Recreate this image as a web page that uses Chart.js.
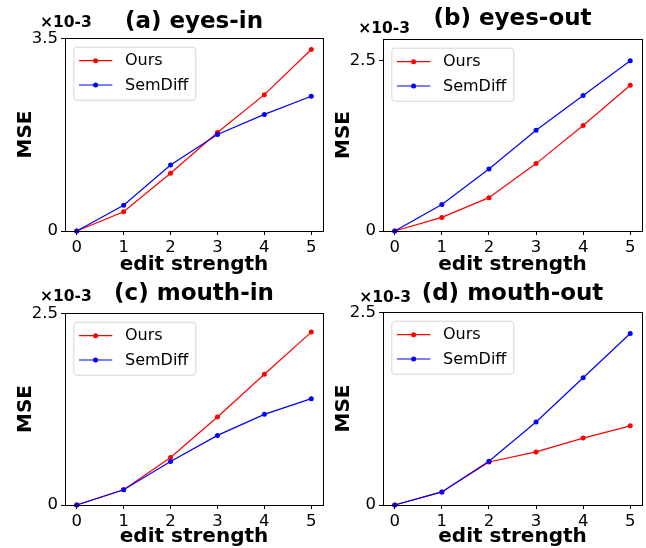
<!DOCTYPE html>
<html><head><meta charset="utf-8">
<script src="https://cdn.jsdelivr.net/npm/chart.js@4.4.0/dist/chart.umd.min.js"></script>
<style>
html,body{margin:0;padding:0;background:#fff;}
#wrap{position:relative;width:646px;height:548px;overflow:hidden;background:#fff;}
canvas{position:absolute;left:0;top:0;}
</style></head><body>
<div id="wrap">
<canvas id="c0" width="646" height="548"></canvas>
<canvas id="c1" width="646" height="548"></canvas>
<canvas id="c2" width="646" height="548"></canvas>
<canvas id="c3" width="646" height="548"></canvas>
</div>
<script>
// ---- data (MSE in units of 1e-3) ----
const strengths = [0, 1, 2, 3, 4, 5];
const eyesInOurs    = [0, 0.35, 1.05, 1.79, 2.48, 3.30];
const eyesInSem     = [0, 0.47, 1.20, 1.755, 2.12, 2.45];
const eyesOutOurs   = [0, 0.20, 0.49, 0.99, 1.55, 2.14];
const eyesOutSem    = [0, 0.39, 0.91, 1.48, 1.99, 2.50];
const mouthInOurs   = [0, 0.20, 0.62, 1.15, 1.71, 2.26];
const mouthInSem    = [0, 0.20, 0.57, 0.91, 1.185, 1.39];
const mouthOutOurs  = [0, 0.17, 0.56, 0.69, 0.87, 1.03];
const mouthOutSem   = [0, 0.17, 0.57, 1.08, 1.655, 2.23];
const panelTitles = ['(a) eyes-in', '(b) eyes-out', '(c) mouth-in', '(d) mouth-out'];
const yTopTicks = [3.5, 2.5, 2.5, 2.5];
const seriesNames = ['Ours', 'SemDiff'];
const offsetLabel = '×10-3';
const xAxisLabel = 'edit strength';
const yAxisLabel = 'MSE';

const panelSeries = [
  [eyesInOurs, eyesInSem],
  [eyesOutOurs, eyesOutSem],
  [mouthInOurs, mouthInSem],
  [mouthOutOurs, mouthOutSem]
];

// ---- layout / style ----
const FONT = "'DejaVu Sans', sans-serif";
const colors = ['#ff0000', '#0000ff'];
const MID = 0.32; // baseline offset of 'middle' in em
const layouts = [
  {L:65,  T:38,  R:323, B:231, yMax:3.51, titleBase:29.3,  xTitleBase:270.7, offX:40,    offBase:27.3},
  {L:383, T:39,  R:642, B:231, yMax:2.82, titleBase:26.7,  xTitleBase:270.7, offX:358.3, offBase:33.3},
  {L:65,  T:313, R:323, B:505, yMax:2.51, titleBase:301.7, xTitleBase:543.3, offX:40,    offBase:300.7},
  {L:383, T:312, R:642, B:505, yMax:2.51, titleBase:301,   xTitleBase:543.3, offX:359.3, offBase:301.7}
];
const YW = 65;

const framePlugin = {
  id: 'frameLegend',
  afterDatasetsDraw(chart, args, opts) {
    const {ctx, chartArea: a} = chart;
    ctx.save();
    ctx.strokeStyle = '#000';
    ctx.lineWidth = 1;
    ctx.strokeRect(Math.round(a.left) + 0.5, Math.round(a.top) + 0.5,
                   Math.round(a.right - a.left), Math.round(a.bottom - a.top));
    // offset text
    ctx.fillStyle = '#000';
    ctx.font = 'bold 15.5px ' + FONT;
    ctx.textAlign = 'left';
    ctx.textBaseline = 'alphabetic';
    ctx.fillText(opts.offsetText, opts.offX, opts.offBase);
    // legend
    const lx = a.left + 8.3, ly = a.top + 8.7, lw = 122, lh = 53;
    ctx.beginPath();
    if (ctx.roundRect) ctx.roundRect(lx + 0.5, ly + 0.5, lw, lh, 3); else ctx.rect(lx + 0.5, ly + 0.5, lw, lh);
    ctx.fillStyle = 'rgba(255,255,255,0.8)';
    ctx.fill();
    ctx.strokeStyle = '#d6d6d6';
    ctx.lineWidth = 1;
    ctx.stroke();
    chart.data.datasets.forEach((ds, i) => {
      const y = ly + 14 + i * 24.3;
      ctx.strokeStyle = ds.borderColor;
      ctx.lineWidth = 1.2;
      ctx.beginPath();
      ctx.moveTo(lx + 5.7, y);
      ctx.lineTo(lx + 39, y);
      ctx.stroke();
      ctx.fillStyle = ds.borderColor;
      ctx.beginPath();
      ctx.arc(lx + 22.3, y, 2.5, 0, Math.PI * 2);
      ctx.fill();
      ctx.fillStyle = '#000';
      ctx.font = '16px ' + FONT;
      ctx.textAlign = 'left';
      ctx.textBaseline = 'middle';
      ctx.fillText(ds.label, lx + 51.7, y + 0.5);
    });
    ctx.restore();
  }
};

panelTitles.forEach((title, p) => {
  const lay = layouts[p];
  const series = panelSeries[p];
  const titleMid = lay.titleBase - MID * 23;
  const titleLH = 23 * 1.2;
  const xTitleMid = lay.xTitleBase - MID * 20;
  const XH = xTitleMid + 12 - lay.B;
  const yTop = yTopTicks[p];
  new Chart(document.getElementById('c' + p), {
    type: 'line',
    data: {
      datasets: series.map((vals, i) => ({
        label: seriesNames[i],
        data: strengths.map((s, k) => ({x: s, y: vals[k]})),
        borderColor: colors[i],
        backgroundColor: colors[i],
        pointBackgroundColor: colors[i],
        borderWidth: 1.2,
        pointRadius: 2.5,
        pointBorderWidth: 0,
        pointHoverRadius: 2.5,
        tension: 0,
        fill: false,
        clip: false,
        order: i === 0 ? 1 : 0
      }))
    },
    options: {
      responsive: false,
      animation: false,
      events: [],
      layout: {padding: {left: lay.L - YW, top: 0, right: 646 - lay.R, bottom: 548 - lay.B - XH}},
      plugins: {
        legend: {display: false},
        tooltip: {enabled: false},
        title: {
          display: true, text: title, fullSize: false, align: 'center', color: '#000',
          font: {family: FONT, size: 23, weight: 'bold', lineHeight: 1.2},
          padding: {top: titleMid - titleLH / 2, bottom: lay.T - titleMid - titleLH / 2}
        },
        frameLegend: {offsetText: offsetLabel, offX: lay.offX, offBase: lay.offBase}
      },
      scales: {
        x: {
          type: 'linear', min: -0.25, max: 5.25,
          afterBuildTicks: (ax) => { ax.ticks = strengths.map(v => ({value: v})); },
          afterFit: (ax) => { ax.height = XH; },
          grid: {display: true, drawOnChartArea: false, drawTicks: true, tickLength: 4, color: '#000', lineWidth: 1},
          border: {display: true, color: '#000', width: 1},
          ticks: {color: '#000', font: {family: FONT, size: 16.5}, padding: 3, autoSkip: false, maxRotation: 0,
                  callback: (v) => String(v)},
          title: {display: true, text: xAxisLabel, color: '#000', padding: 0,
                  font: {family: FONT, size: 20, weight: 'bold', lineHeight: 1.2}}
        },
        y: {
          type: 'linear', min: 0, max: lay.yMax,
          afterBuildTicks: (ax) => { ax.ticks = [0, yTop].map(v => ({value: v})); },
          afterFit: (ax) => { ax.width = YW; },
          grid: {display: true, drawOnChartArea: false, drawTicks: true, tickLength: 4, color: '#000', lineWidth: 1},
          border: {display: true, color: '#000', width: 1},
          ticks: {color: '#000', font: {family: FONT, size: 16.5}, padding: 3, autoSkip: false,
                  callback: (v) => String(v)},
          title: {display: true, text: yAxisLabel, color: '#000', padding: {top: 13.3, bottom: 0},
                  font: {family: FONT, size: 20, weight: 'bold', lineHeight: 1.2}}
        }
      }
    },
    plugins: [framePlugin]
  });
});
</script>
</body></html>
